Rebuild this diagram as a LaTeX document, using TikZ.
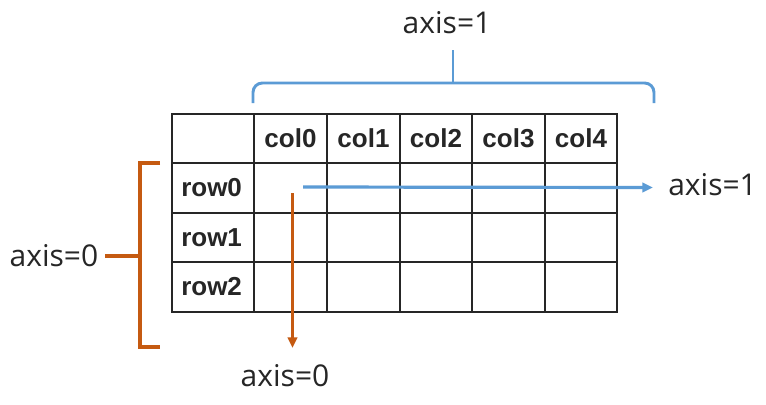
\documentclass[tikz,border=0pt]{standalone}
\usepackage{fontspec}
\setmainfont{Open Sans}
\newfontfamily\tabfont{Liberation Sans}
\usetikzlibrary{arrows.meta}
\definecolor{axblue}{HTML}{5B9BD5}
\definecolor{axorange}{HTML}{C55A11}
\begin{document}
\begin{tikzpicture}[x=0.75pt,y=-0.75pt,
  grid/.style={line width=1.6pt,black!85},
  lbl/.style={font=\fontsize{22.5}{26}\selectfont,text=black!85,inner sep=0pt},
  hdr/.style={font=\tabfont\bfseries\fontsize{19.5}{23}\selectfont,text=black!85,inner sep=0pt},
  bluebr/.style={line width=2.2pt,axblue},
  orbr/.style={line width=2.4pt,axorange},
  arr/.style={-{Triangle[length=8pt,width=7pt]}}]
\useasboundingbox (0,0) rectangle (766,404);
\fill[white] (0,0) rectangle (766,404);
% grid
\draw[grid] (172,114) rectangle (617,312);
\foreach \x in {254,327,400,472,545} \draw[grid] (\x,114) -- (\x,312);
\foreach \y in {163,213,262} \draw[grid] (172,\y) -- (617,\y);
% headers
\node[hdr] (c0) at (290.5,138.5) {col0};
\node[hdr] (c1) at (363.5,138.5) {col1};
\node[hdr] (c2) at (436,138.5) {col2};
\node[hdr] (c3) at (508.5,138.5) {col3};
\node[hdr] (c4) at (581,138.5) {col4};
\node[hdr,anchor=west] (r0) at (181,188) {row0};
\node[hdr,anchor=west] (r1) at (181,237.5) {row1};
\node[hdr,anchor=west] (r2) at (181,287) {row2};
% labels
\node[lbl] (top1) at (447,23) {axis=1};
\node[lbl,anchor=west] (right1) at (668,185) {axis=1};
\node[lbl] (left0) at (54,256) {axis=0};
\node[lbl] (bot0) at (285,376) {axis=0};
% blue brace
\draw[bluebr,rounded corners=7pt] (253,103) -- (253,83) -- (654,83) -- (654,103);
\coordinate (bstem) at (453,83);
\draw[bluebr] (bstem) -- (453,50);
% orange bracket
\draw[orbr] (160,163) -- (140,163) -- (140,347) -- (160,347);
\coordinate (ostem) at (140,256);
\draw[orbr] (ostem) -- (105,256);
% arrows
\coordinate (bs) at (303,187);
\coordinate (be) at (653,187.5);
\draw[bluebr,line width=2.4pt,arr] (bs) -- (be);
\coordinate (os) at (292.5,193);
\coordinate (oe) at (292.5,348);
\draw[orbr,line width=2.4pt,arr] (os) -- (oe);
\end{tikzpicture}
\end{document}
